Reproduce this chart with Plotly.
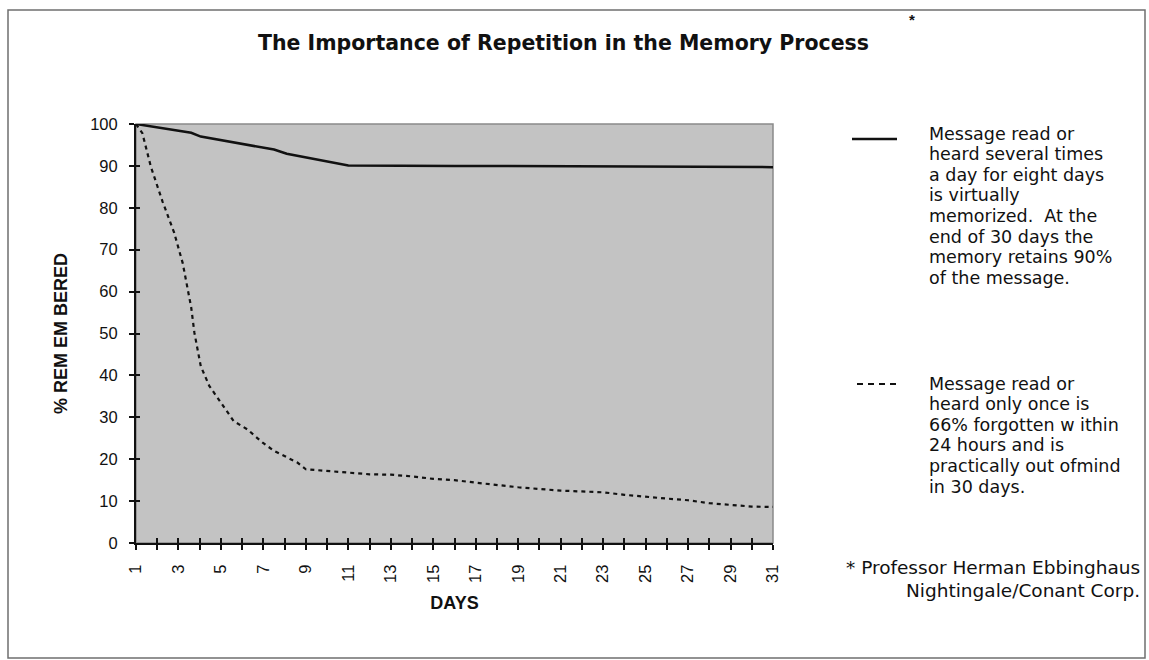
import plotly.graph_objects as go

# ---------------- data ----------------
solid_days = [1, 2.2, 3.6, 4.05, 6.0, 7.5, 8.1, 11, 16, 21, 26, 31]
solid_vals = [100, 99.0, 97.9, 97.0, 95.3, 93.9, 92.9, 90.1, 90.0, 89.9, 89.8, 89.7]

dashed_days = [1, 1.3, 1.7, 2.25, 2.8, 3.2, 3.6, 3.75, 4.05, 4.45, 5.0, 5.6, 6.25,
               6.95, 7.5, 8.6, 9.0, 10, 11, 12, 13, 14, 15, 16, 17, 18, 19, 20,
               21, 22, 23, 24, 25, 26, 27, 28, 29, 30, 31]
dashed_vals = [100, 97.8, 89.8, 81.5, 74.0, 66.8, 56.2, 50.2, 42.2, 37.5, 33.5, 29.1, 27.1,
               24.0, 22.0, 19.2, 17.6, 17.2, 16.8, 16.4, 16.3, 15.9, 15.3, 15.0, 14.4, 13.8, 13.3, 12.9,
               12.5, 12.3, 12.1, 11.5, 11.0, 10.6, 10.2, 9.5, 9.1, 8.7, 8.6]

x_tick_vals = list(range(1, 32))
x_tick_text = [str(d) if d % 2 == 1 else "" for d in x_tick_vals]
y_tick_vals = list(range(0, 101, 10))

title_text = "The Importance of Repetition in the Memory Process"
x_title = "DAYS"
y_title = "% REM EM BERED"
solid_lines = ["Message read or", "heard several times", "a day for eight days",
               "is virtually", "memorized.  At the", "end of 30 days the",
               "memory retains 90%", "of the message."]
dashed_lines = ["Message read or", "heard only once is", "66% forgotten w ithin",
                "24 hours and is", "practically out ofmind", "in 30 days."]
footnote_lines = ["* Professor Herman Ebbinghaus", "Nightingale/Conant Corp."]

# ---------------- geometry helpers ----------------
W, H = 1149, 660
L, R, T, B = 136, 376, 124, 117
PW = W - L - R
PH = H - T - B


def fx(px):
    return (px - L) / PW


def fy(py):
    return (H - B - py) / PH


FONT = "Arial, 'Liberation Sans', sans-serif"
WIDE = "'DejaVu Sans', Verdana, sans-serif"

fig = go.Figure()
fig.add_trace(go.Scatter(x=solid_days, y=solid_vals, mode="lines",
                         line=dict(color="#111111", width=2.5),
                         name="Message read or heard several times a day", showlegend=False))
fig.add_trace(go.Scatter(x=dashed_days, y=dashed_vals, mode="lines",
                         line=dict(color="#111111", width=2.2, dash="4px,4px"),
                         name="Message read or heard only once", showlegend=False))

axis_common = dict(showgrid=False, zeroline=False)
fig.update_layout(
    width=W, height=H,
    margin=dict(l=L, r=R, t=T, b=B, pad=0),
    paper_bgcolor="#ffffff",
    plot_bgcolor="#c3c3c3",
    font=dict(family=FONT, color="#111111", size=16),
    xaxis=dict(range=[1, 31], tickmode="array", tickvals=x_tick_vals, ticktext=x_tick_text,
               tickangle=-90, ticks="outside", ticklen=5, tickwidth=1.5, tickcolor="#111111",
               showline=True, linecolor="#111111", linewidth=2,
               tickfont=dict(size=16.5, family=FONT), ticklabelstandoff=8,
               title=dict(text=x_title, font=dict(size=18, family=FONT, weight="bold"), standoff=14),
               **axis_common),
    xaxis2=dict(range=[1, 31], overlaying="x", anchor="y", side="bottom",
                tickmode="array", tickvals=x_tick_vals, ticks="inside", ticklen=5,
                tickwidth=1.5, tickcolor="#111111", showticklabels=False, showline=False,
                **axis_common),
    yaxis=dict(range=[0, 100], tickmode="array", tickvals=y_tick_vals,
               ticks="outside", ticklen=5, tickwidth=1.5, tickcolor="#111111",
               showline=True, linecolor="#111111", linewidth=2,
               tickfont=dict(size=16.5, family=FONT), ticklabelstandoff=8,
               title=dict(text=y_title, font=dict(size=18, family=FONT, weight="bold"), standoff=18),
               **axis_common),
    yaxis2=dict(range=[0, 100], overlaying="y", anchor="x", side="left",
                tickmode="array", tickvals=y_tick_vals, ticks="inside", ticklen=4,
                tickwidth=1.5, tickcolor="#111111", showticklabels=False, showline=False,
                **axis_common),
    showlegend=False,
)
# empty traces so the overlay axes (inner half of the cross ticks) are created
fig.add_trace(go.Scatter(x=[], y=[], xaxis="x2", yaxis="y", showlegend=False, hoverinfo="skip"))
fig.add_trace(go.Scatter(x=[], y=[], xaxis="x", yaxis="y2", showlegend=False, hoverinfo="skip"))

shapes = []
# plot area border (top/right grey)
shapes.append(dict(type="rect", xref="paper", yref="paper", x0=0, x1=1, y0=0, y1=1,
                   line=dict(color="#8a8a8a", width=1.5), layer="below"))
# outer frame
shapes.append(dict(type="rect", xref="paper", yref="paper", x0=fx(8), x1=fx(1145),
                   y0=fy(658), y1=fy(10), line=dict(color="#6f6f6f", width=1.5)))
# legend swatches
shapes.append(dict(type="line", xref="paper", yref="paper", x0=fx(852), x1=fx(897),
                   y0=fy(139), y1=fy(139), line=dict(color="#111111", width=2.5)))
shapes.append(dict(type="line", xref="paper", yref="paper", x0=fx(857), x1=fx(899),
                   y0=fy(384), y1=fy(384), line=dict(color="#111111", width=2, dash="6px,5px")))
fig.update_layout(shapes=shapes)

ann = []
ann.append(dict(text=title_text, x=fx(563), y=fy(43), xref="paper", yref="paper",
                showarrow=False, xanchor="center", yanchor="middle",
                font=dict(size=20.5, family=WIDE, weight="bold", color="#111111")))
ann.append(dict(text="*", x=fx(912), y=fy(19), xref="paper", yref="paper",
                showarrow=False, xanchor="center", yanchor="middle",
                font=dict(size=15, family=FONT, weight="bold", color="#111111")))

LINE_H = 20.6
for i, s in enumerate(solid_lines):
    ann.append(dict(text=s, x=fx(927), y=fy(133.5 + i * LINE_H), xref="paper", yref="paper",
                    showarrow=False, xanchor="left", yanchor="middle",
                    font=dict(size=17.5, family=WIDE, color="#111111")))
for i, s in enumerate(dashed_lines):
    ann.append(dict(text=s, x=fx(927), y=fy(383.5 + i * LINE_H), xref="paper", yref="paper",
                    showarrow=False, xanchor="left", yanchor="middle",
                    font=dict(size=17.5, family=WIDE, color="#111111")))
for i, s in enumerate(footnote_lines):
    ann.append(dict(text=s, x=fx(1142), y=fy(567 + i * 23), xref="paper", yref="paper",
                    showarrow=False, xanchor="right", yanchor="middle",
                    font=dict(size=18.5, family=WIDE, color="#111111")))
fig.update_layout(annotations=ann)

fig.write_html("out.html", config={"displayModeBar": False},
               post_script="document.body.style.margin='0';document.body.style.overflow='hidden';")
